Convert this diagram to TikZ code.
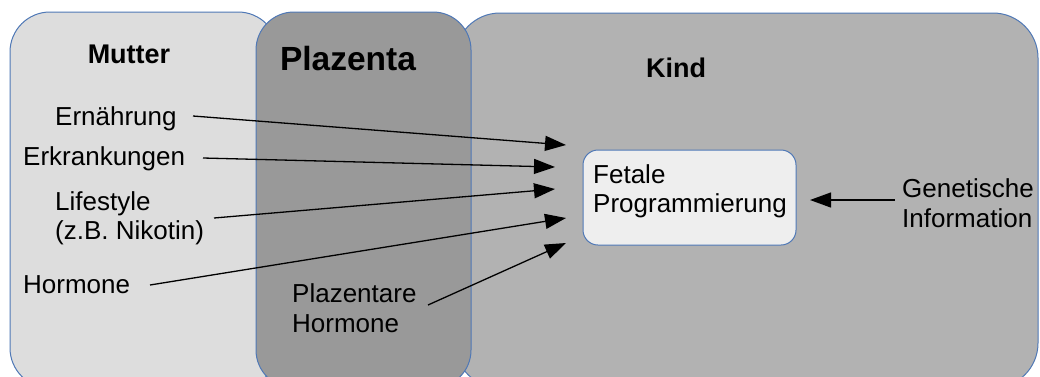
\documentclass[tikz,border=0pt]{standalone}
\usepackage{fontspec}
\setmainfont{Liberation Sans}
\usetikzlibrary{arrows.meta}
\definecolor{bordercol}{RGB}{79,120,182}
\definecolor{mutterfill}{RGB}{221,221,221}
\definecolor{plazfill}{RGB}{153,153,153}
\definecolor{kindfill}{RGB}{178,178,178}
\definecolor{boxfill}{RGB}{238,238,238}
\begin{document}
\begin{tikzpicture}[x=1pt,y=-1pt,
  region/.style={draw=bordercol, line width=1pt},
  lbl/.style={inner sep=0pt, anchor=west, align=left, font=\fontsize{26}{29.5}\selectfont, text=black},
  title/.style={inner sep=0pt, anchor=base, font=\bfseries\fontsize{27}{31}\selectfont},
  arr/.style={line width=1.3pt, -{Triangle[length=21pt,width=15pt]}}]
\fill[white] (0,0) rectangle (1040,376);
\useasboundingbox (0,0) rectangle (1040,376);
\clip (0,0) rectangle (1040,376);
% regions
\draw[region, fill=mutterfill, rounded corners=40pt] (10,12) rectangle (278,388);
\draw[region, fill=kindfill, rounded corners=45pt] (455,13) rectangle (1038,388);
\draw[region, fill=plazfill, rounded corners=38pt] (256,12) rectangle (471,388);
% titles
\node[title] (tm) at (129,63) {Mutter};
\node[title, font=\bfseries\fontsize{33.5}{38}\selectfont] (tp) at (348,70) {Plazenta};
\node[title] (tk) at (676,77) {Kind};
% labels
\node[lbl, anchor=base west] (ern) at (55,125) {Ernährung};
\node[lbl, anchor=base west] (erk) at (23,165) {Erkrankungen};
\node[lbl] (life) at (55,218.5) {Lifestyle\\(z.B. Nikotin)};
\node[lbl, anchor=base west] (hor) at (23,293) {Hormone};
\node[lbl] (pla) at (292,308) {Plazentare\\Hormone};
\node[lbl] (gen) at (902,203) {Genetische\\Information};
% target box
\node[draw=bordercol, line width=1pt, fill=boxfill, rounded corners=15pt,
      minimum width=213pt, minimum height=95pt, inner sep=0pt] (fp) at (689.5,197.5) {};
\node[lbl] (fpt) at (593,191.5) {Fetale\\Programmierung};
% arrow end points
\coordinate (s1) at (193,116); \coordinate (e1) at (566,145);
\coordinate (s2) at (203,158); \coordinate (e2) at (555,167);
\coordinate (s3) at (214,218); \coordinate (e3) at (555,189);
\coordinate (s4) at (150,285); \coordinate (e4) at (566,218);
\coordinate (s5) at (428,305); \coordinate (e5) at (566,243);
\coordinate (s6) at (895,200); \coordinate (e6) at (810,200);
\draw[arr] (s1) -- (e1);
\draw[arr] (s2) -- (e2);
\draw[arr] (s3) -- (e3);
\draw[arr] (s4) -- (e4);
\draw[arr] (s5) -- (e5);
\draw[arr] (s6) -- (e6);
\end{tikzpicture}
\end{document}
